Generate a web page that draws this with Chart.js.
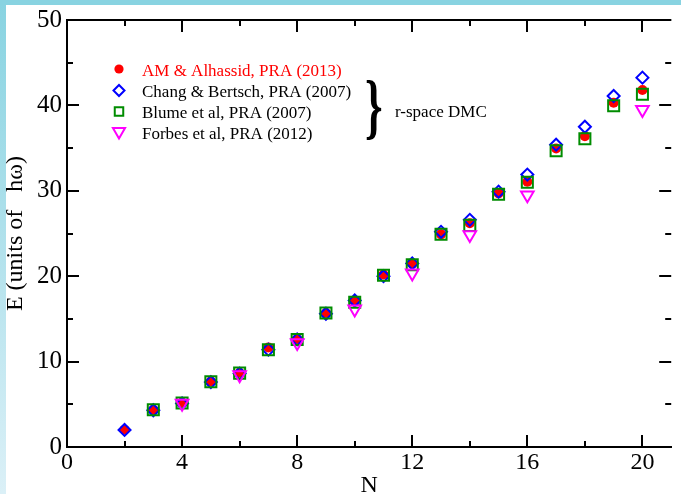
<!DOCTYPE html>
<html>
<head>
  <meta charset="utf-8">
  <title>Ground state energy vs N</title>
  <script src="https://cdn.jsdelivr.net/npm/chart.js"></script>
  <style>
    body { margin: 0; width: 681px; height: 494px; overflow: hidden; position: relative;
           background: linear-gradient(to bottom, #88d3e1, #dbf0f7); }
    #sheet { position: absolute; left: 6px; top: 5px; right: 0; bottom: 0; background: #fff; }
    #topband { position: absolute; left: 0; top: 0; width: 681px; height: 5px; background: #88d3e1; }
    #energyChart { position: absolute; left: 0; top: 0; }
  </style>
</head>
<body>
  <div id="topband"></div>
  <div id="sheet"></div>
  <canvas id="energyChart" width="681" height="494"></canvas>

  <script>
    // particle number N
    var nValues = [2, 3, 4, 5, 6, 7, 8, 9, 10, 11, 12, 13, 14, 15, 16, 17, 18, 19, 20];

    // energies in units of hbar*omega (null = no point)
    var amAlhassid = [2.02, 4.35, 5.2, 7.7, 8.7, 11.65, 12.65, 15.7, 17.0, 20.2, 21.45, 24.9, 26.2, 29.7, 31.05, 34.95, 36.4, 40.3, 41.8];
    var changBertsch = [2.0, 4.3, 5.1, 7.6, 8.6, 11.4, 12.6, 15.6, 17.15, 20.0, 21.5, 25.2, 26.6, 29.9, 31.9, 35.4, 37.5, 41.1, 43.25];
    var blume = [null, 4.35, 5.15, 7.65, 8.65, 11.4, 12.6, 15.7, 16.95, 20.1, 21.35, 24.9, 25.95, 29.6, 31.0, 34.7, 36.1, 39.95, 41.3];
    var forbes = [null, null, 5.1, null, 8.45, null, 12.2, null, 16.15, null, 20.35, null, 24.85, null, 29.5, null, null, null, 39.5];

    var xTicks = [0, 4, 8, 12, 16, 20];
    var xMinorTicks = [2, 6, 10, 14, 18];
    var yTicks = [0, 10, 20, 30, 40, 50];
    var yMinorTicks = [5, 15, 25, 35, 45];

    var legendLabels = ["AM & Alhassid, PRA (2013)", "Chang & Bertsch, PRA (2007)", "Blume et al, PRA (2007)", "Forbes et al, PRA (2012)"];

    function points(arr) {
      return nValues.map(function(n, i) { return { x: n, y: arr[i] }; })
                    .filter(function(p) { return p.y !== null; });
    }

    var serif = "'Liberation Serif', 'Times New Roman', serif";
    var clear = 'rgba(0,0,0,0)';
    var green = '#008c00';

    // marker styles, also used for the hand-placed legend
    var styles = [
      { pointStyle: 'circle', radius: 5, rotation: 0, borderWidth: 0, fill: '#ff0000', stroke: '#ff0000' },
      { pointStyle: 'rectRot', radius: 6, rotation: 0, borderWidth: 2, fill: clear, stroke: '#0000ff' },
      { pointStyle: 'rect', radius: 7.8, rotation: 0, borderWidth: 2, fill: clear, stroke: green },
      { pointStyle: 'triangle', radius: 7.3, rotation: 180, borderWidth: 2, fill: clear, stroke: '#ff00ff' }
    ];
    var legendStyles = [
      { pointStyle: 'circle', radius: 4.6, rotation: 0, borderWidth: 0 },
      { pointStyle: 'rectRot', radius: 5.5, rotation: 0, borderWidth: 2 },
      { pointStyle: 'rect', radius: 6, rotation: 0, borderWidth: 2 },
      { pointStyle: 'triangle', radius: 7, rotation: 180, borderWidth: 2 }
    ];

    function ds(label, arr, s, order) {
      return {
        label: label, data: points(arr), showLine: false, order: order,
        pointStyle: s.pointStyle, pointRadius: s.radius, pointRotation: s.rotation,
        pointBorderWidth: s.borderWidth, pointBackgroundColor: s.fill, pointBorderColor: s.stroke,
        backgroundColor: s.fill, borderColor: s.stroke
      };
    }

    // inward ticks on all four sides, top frame line, the legend and the brace
    var framePlugin = {
      id: 'framePlugin',
      afterDraw: function(chart) {
        var ctx = chart.ctx, a = chart.chartArea;
        var xs = chart.scales.x, ys = chart.scales.y;
        ctx.save();
        ctx.strokeStyle = '#000';
        ctx.lineWidth = 2;
        ctx.beginPath();
        ctx.moveTo(a.left, a.top); ctx.lineTo(a.right, a.top);
        ctx.stroke();

        function xt(v, len) {
          var px = Math.round(xs.getPixelForValue(v));
          ctx.moveTo(px, a.bottom); ctx.lineTo(px, a.bottom - len);
          ctx.moveTo(px, a.top); ctx.lineTo(px, a.top + len);
        }
        function yt(v, len) {
          var py = Math.round(ys.getPixelForValue(v));
          ctx.moveTo(a.left, py); ctx.lineTo(a.left + len, py);
          ctx.moveTo(a.right, py); ctx.lineTo(a.right - len, py);
        }
        ctx.beginPath();
        xTicks.forEach(function(v) { xt(v, 12); });
        xMinorTicks.forEach(function(v) { xt(v, 6); });
        yTicks.forEach(function(v) { yt(v, 12); });
        yMinorTicks.forEach(function(v) { yt(v, 6); });
        ctx.stroke();

        // legend
        var rowsY = [69, 90.5, 111.5, 131.5];
        var baseY = [76, 97, 118, 139];
        ctx.font = '17px ' + serif;
        ctx.textBaseline = 'alphabetic';
        ctx.textAlign = 'left';
        for (var i = 0; i < legendLabels.length; i++) {
          ctx.fillStyle = styles[i].fill;
          ctx.strokeStyle = styles[i].stroke;
          ctx.lineWidth = legendStyles[i].borderWidth;
          Chart.helpers.drawPoint(ctx, legendStyles[i], 119, rowsY[i]);
          ctx.fillStyle = i === 0 ? '#ff0000' : '#000';
          ctx.fillText(legendLabels[i], 142, baseY[i]);
        }

        // brace grouping the r-space DMC results
        ctx.fillStyle = '#000';
        ctx.save();
        ctx.translate(365, 130);
        ctx.scale(0.62, 1);
        ctx.font = 'bold 72px ' + serif;
        ctx.fillText('}', 0, 0);
        ctx.restore();
        ctx.font = '17px ' + serif;
        ctx.fillText('r-space DMC', 395, 117);
        ctx.restore();
      }
    };

    var chart = new Chart(document.getElementById('energyChart'), {
      type: 'scatter',
      data: {
        datasets: [
          ds(legendLabels[0], amAlhassid, styles[0], 4),
          ds(legendLabels[1], changBertsch, styles[1], 3),
          ds(legendLabels[2], blume, styles[2], 2),
          ds(legendLabels[3], forbes, styles[3], 1)
        ]
      },
      options: {
        responsive: false,
        animation: false,
        events: [],
        layout: { padding: { top: 17, right: 0, left: 0, bottom: 0 } },
        plugins: { legend: { display: false }, tooltip: { enabled: false } },
        scales: {
          x: {
            type: 'linear', min: 0, max: 21,
            afterFit: function(s) { s.height = 47; },
            afterBuildTicks: function(s) { s.ticks = xTicks.map(function(v) { return { value: v }; }); },
            grid: { display: false, drawTicks: false },
            border: { display: true, color: '#000', width: 2 },
            ticks: { color: '#000', font: { family: serif, size: 24 }, padding: 1, maxRotation: 0, autoSkip: false },
            title: { display: true, text: 'N', color: '#000', font: { family: serif, size: 24, lineHeight: 1 }, padding: { top: 0, bottom: -4 } }
          },
          y: {
            type: 'linear', min: 0, max: 50,
            afterFit: function(s) { s.width = 67; },
            afterBuildTicks: function(s) { s.ticks = yTicks.map(function(v) { return { value: v }; }); },
            grid: { display: false, drawTicks: false },
            border: { display: true, color: '#000', width: 2 },
            ticks: { color: '#000', font: { family: serif, size: 25 }, padding: 5, autoSkip: false },
            title: { display: true, text: 'E (units of   h\u03c9)', color: '#000', font: { family: serif, size: 24, lineHeight: 1 }, padding: { top: 4, bottom: 0 } }
          }
        }
      },
      plugins: [framePlugin]
    });
  </script>
</body>
</html>
